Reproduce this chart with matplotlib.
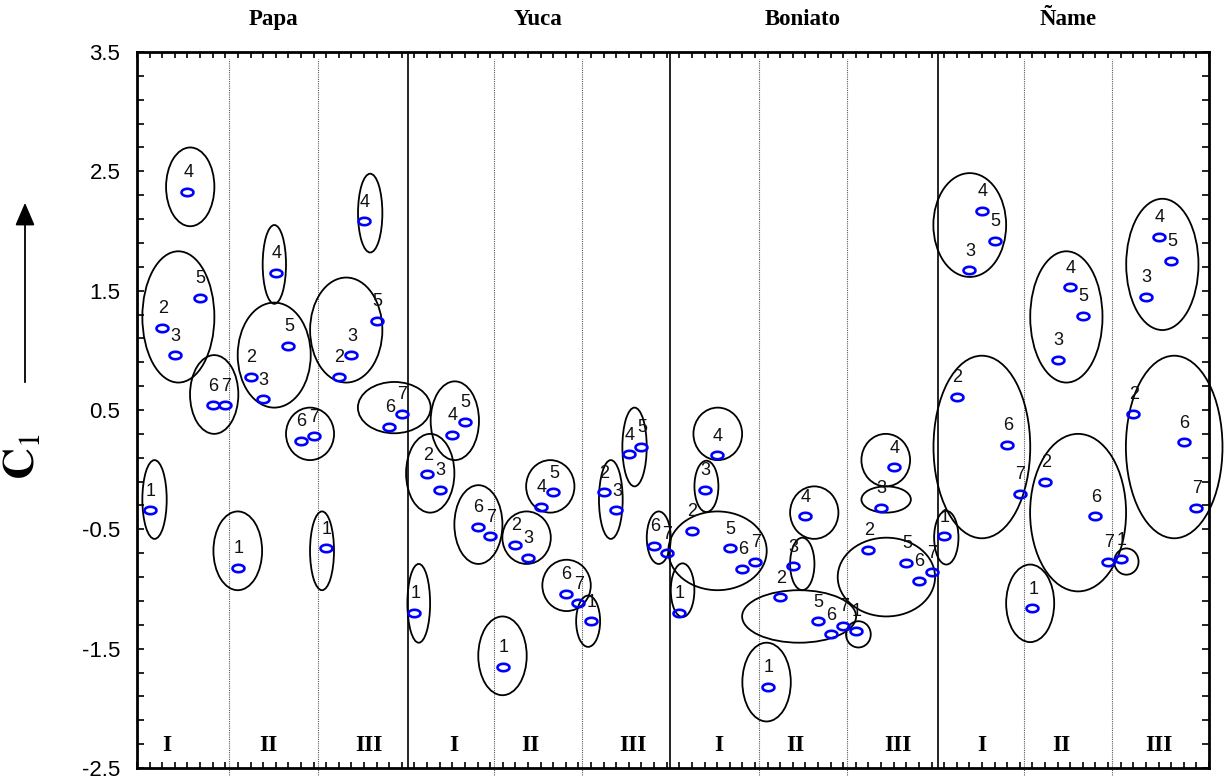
"""
Grafico C1 por cultivo (Papa, Yuca, Boniato, Name) y periodo (I, II, III).
Puntos 1-7 en cada periodo, agrupados con elipses.
"""
import numpy as np
import matplotlib.pyplot as plt
from matplotlib.patches import Ellipse
from matplotlib.path import Path
from matplotlib.ticker import FixedLocator, MultipleLocator

plt.rcParams['mathtext.fontset'] = 'stix'

cultivos = ["Papa", "Yuca", "Boniato", "Ñame"]
periodos = ["I", "II", "III"]
etiquetas = ["1", "2", "3", "4", "5", "6", "7"]

# valores de C1 (periodo I, II, III; puntos 1-7 en cada uno)
c1_papa = [-0.34, 1.19, 0.96, 2.33, 1.44, 0.54, 0.54,
           -0.82, 0.78, 0.59, 1.65, 1.04, 0.24, 0.28,
           -0.66, 0.78, 0.96, 2.08, 1.25, 0.36, 0.47]
c1_yuca = [-1.20, -0.04, -0.17, 0.29, 0.40, -0.48, -0.56,
           -1.65, -0.63, -0.74, -0.31, -0.19, -1.04, -1.12,
           -1.27, -0.19, -0.34, 0.13, 0.19, -0.64, -0.70]
c1_boniato = [-1.20, -0.51, -0.17, 0.12, -0.66, -0.83, -0.77,
              -1.82, -1.07, -0.81, -0.39, -1.27, -1.38, -1.31,
              -1.35, -0.67, -0.32, 0.02, -0.78, -0.93, -0.86]
c1_name = [-0.56, 0.61, 1.67, 2.17, 1.92, 0.21, -0.20,
           -1.16, -0.10, 0.92, 1.53, 1.29, -0.39, -0.77,
           -0.75, 0.47, 1.45, 1.95, 1.75, 0.23, -0.32]

# elipses de agrupamiento: (centro x, centro y, ancho, alto)
elipses_papa = [(1.39, -0.25, 1.93, 0.66), (3.28, 1.28, 5.71, 1.10),
                (4.22, 2.37, 3.83, 0.66), (6.12, 0.63, 3.83, 0.66),
                (7.99, -0.68, 3.86, 0.66), (10.88, 0.96, 5.79, 0.88),
                (10.89, 1.72, 1.85, 0.66), (13.72, 0.30, 3.81, 0.44),
                (14.67, -0.68, 1.90, 0.66), (16.59, 1.17, 5.73, 0.88),
                (18.49, 2.15, 1.93, 0.66), (20.40, 0.52, 5.77, 0.43)]
elipses_yuca = [(22.34, -1.12, 1.80, 0.66), (23.25, -0.03, 3.83, 0.66),
                (25.20, 0.41, 3.83, 0.66), (27.07, -0.46, 3.81, 0.66),
                (28.98, -1.56, 3.84, 0.66), (30.89, -0.57, 3.84, 0.44),
                (32.77, -0.14, 3.83, 0.44), (34.06, -0.97, 3.84, 0.43),
                (35.77, -1.27, 1.90, 0.43), (37.57, -0.25, 1.88, 0.66),
                (39.45, 0.19, 1.93, 0.66), (41.37, -0.57, 1.90, 0.44)]
elipses_boniato = [(43.26, -1.01, 1.87, 0.45), (45.15, -0.14, 1.90, 0.43),
                   (46.05, 0.30, 3.86, 0.44), (46.03, -0.68, 7.80, 0.66),
                   (49.92, -1.78, 3.84, 0.66), (52.75, -0.79, 1.93, 0.44),
                   (53.70, -0.36, 3.83, 0.44), (52.50, -1.23, 9.04, 0.44),
                   (57.20, -1.38, 1.96, 0.22), (59.40, -0.25, 3.92, 0.22),
                   (59.37, 0.08, 3.86, 0.44), (59.42, -0.90, 7.72, 0.66)]
elipses_name = [(64.17, -0.57, 1.93, 0.45), (66.03, 2.05, 5.77, 0.87),
                (66.99, 0.19, 7.67, 1.53), (70.82, -1.12, 3.81, 0.65),
                (73.69, 1.28, 5.73, 1.10), (74.62, -0.36, 7.61, 1.32),
                (78.45, -0.77, 1.93, 0.22), (81.30, 1.72, 5.73, 1.10),
                (82.24, 0.19, 7.66, 1.53)]

valores = [c1_papa, c1_yuca, c1_boniato, c1_name]
elipses = elipses_papa + elipses_yuca + elipses_boniato + elipses_name

# separaciones y posiciones de textos (coordenadas de datos)
lineas_punteadas = [7.3, 14.35, 28.3, 35.3, 49.3, 56.3, 70.3, 77.3]
lineas_solidas = [21.5, 42.3, 63.5]
x_periodos = [2.4, 10.4, 18.4, 25.1, 31.2, 39.3, 46.1, 52.2, 60.3, 67.0, 73.3, 81.0]
x_cultivos = [10.85, 31.8, 52.8, 73.8]

fig = plt.figure(figsize=(12.25, 7.82), dpi=100)
ax = fig.add_axes([137 / 1225, 14 / 782, 1072 / 1225, 716 / 782])
ax.set_xlim(0, 85)
ax.set_ylim(-2.5, 3.5)

for x in lineas_punteadas:
    ax.plot([x, x], [-2.56, 3.44], color='0.35', lw=0.8, ls=(0, (1, 1)),
            clip_on=False, zorder=1)
for x in lineas_solidas:
    ax.axvline(x, color='black', lw=1.2, zorder=1)

for cx, cy, w, h in elipses:
    ax.add_patch(Ellipse((cx, cy), w, h, fill=False, edgecolor='black',
                         lw=1.3, clip_on=False, zorder=2))

theta = np.linspace(0, 2 * np.pi, 60)
marcador = Path(np.column_stack([np.cos(theta), 0.62 * np.sin(theta)]))

x = 1
for vals in valores:
    xs = np.arange(x, x + len(vals))
    ax.plot(xs, vals, ls='none', marker=marcador, markersize=8.6,
            markerfacecolor='none', markeredgecolor='#0000FF', mew=1.9, zorder=3)
    for i, (xi, yi) in enumerate(zip(xs, vals)):
        ax.annotate(etiquetas[i % 7], (xi, yi), xytext=(0.5, 10.5),
                    textcoords='offset points', ha='center', va='baseline',
                    fontsize=13, family='Liberation Sans', color='#111111',
                    zorder=4)
    x += len(vals)

for i, xp in enumerate(x_periodos):
    ax.text(xp, -2.31, periodos[i % 3], ha='center', va='center',
            fontsize=17, fontweight='bold', family='Liberation Serif')

trans = ax.get_xaxis_transform()
for nombre, xc in zip(cultivos, x_cultivos):
    ax.text(xc, 1.045, nombre, transform=trans, ha='center', va='center',
            fontsize=16.5, fontweight='bold', family='Liberation Serif')

# ejes
ax.xaxis.set_major_locator(MultipleLocator(1))
ax.yaxis.set_major_locator(FixedLocator(np.arange(-2.5, 3.51, 1.0)))
ax.yaxis.set_minor_locator(FixedLocator(np.arange(-2.5, 3.51, 0.2)))
ax.set_yticklabels([f"{v:.1f}" for v in np.arange(-2.5, 3.51, 1.0)],
                   family='Liberation Sans', fontsize=16)
ax.tick_params(axis='x', which='both', direction='in', top=True, bottom=True,
               length=4, width=1.2, labelbottom=False)
ax.tick_params(axis='y', which='both', direction='in', left=True, right=True,
               length=5, width=1.2, pad=12)
for s in ax.spines.values():
    s.set_linewidth(2)

fig.text(22 / 1225, 326 / 782, r'$\mathbf{C}_{\mathrm{1}}$', rotation=90,
         ha='center', va='center', fontsize=32)
ax.annotate('', xy=(25, 582), xycoords='figure pixels', xytext=(25, 397),
            textcoords='figure pixels',
            arrowprops=dict(arrowstyle='-|>,head_length=0.7,head_width=0.3',
                            color='black', lw=1.3, mutation_scale=20))

fig.savefig('out.png', dpi=100)
